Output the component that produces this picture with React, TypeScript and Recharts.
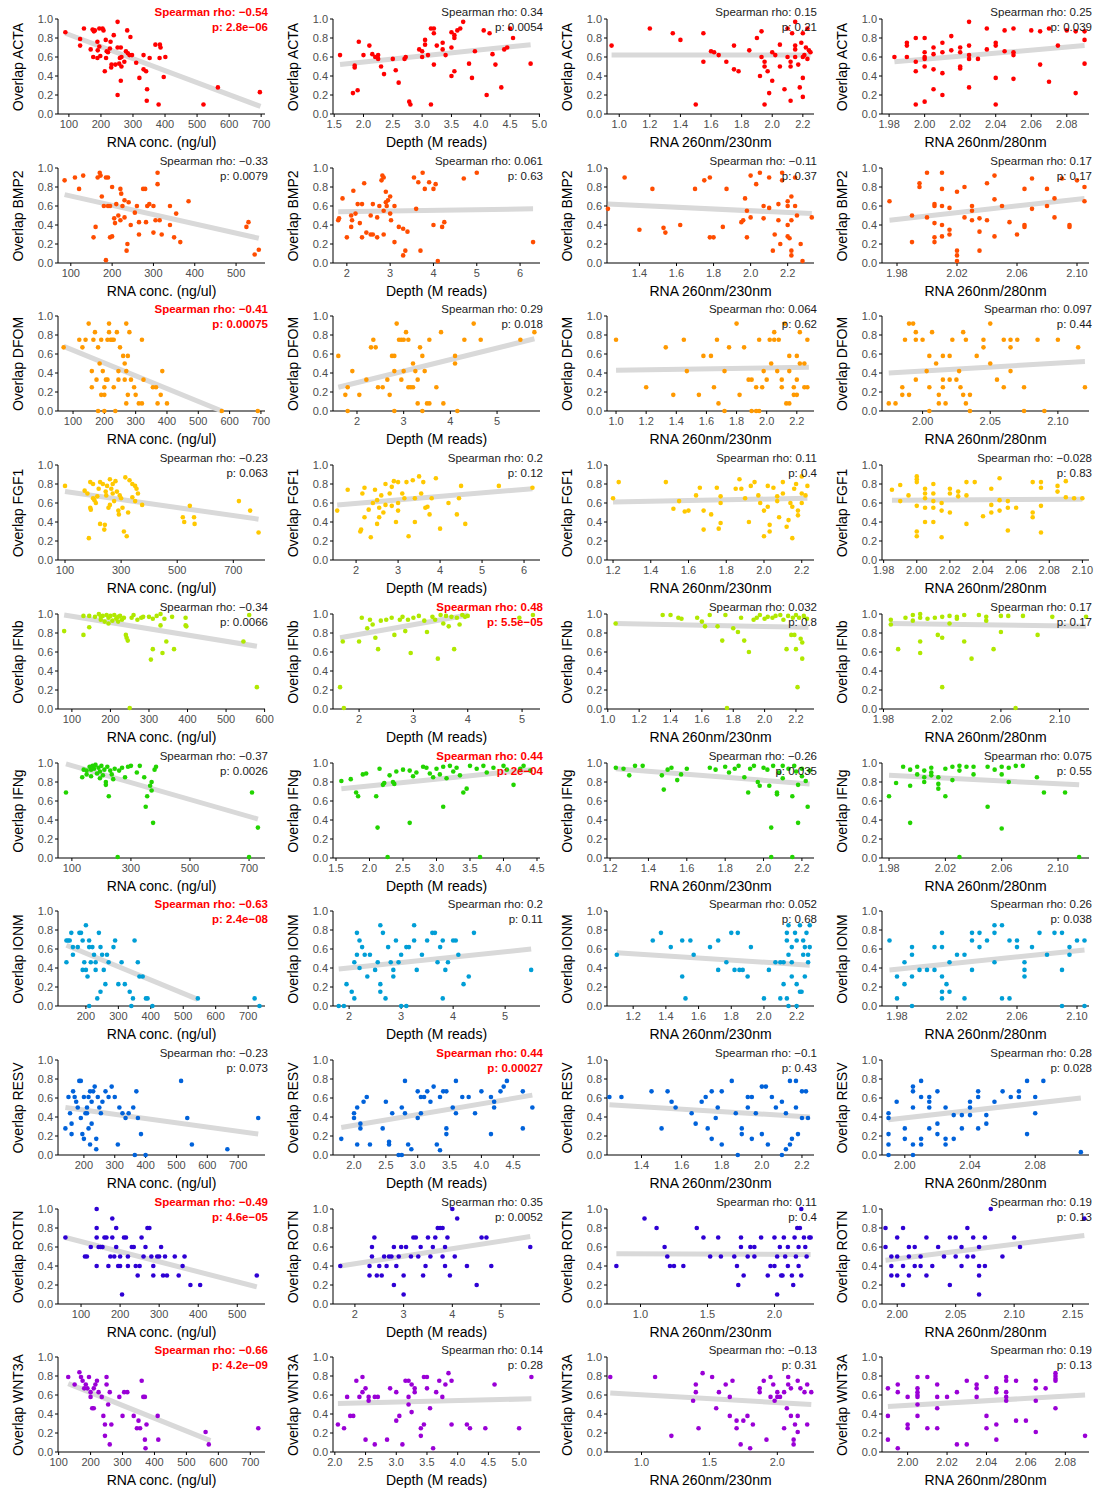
import React from 'react';
import { ScatterChart, Scatter, XAxis, YAxis } from 'recharts';

const GENES = ['ACTA', 'BMP2', 'DFOM', 'FGF1', 'IFNb', 'IFNg', 'IONM', 'RESV', 'ROTN', 'WNT3A'];
const COLORS = ['#FF0000', '#FF4D00', '#FF9900', '#FFC800', '#B0E800', '#22D400', '#009ED6', '#0062DA', '#2E00D4', '#9A00D6'];
const X_TITLES = ['RNA conc. (ng/ul)', 'Depth (M reads)', 'RNA 260nm/230nm', 'RNA 260nm/280nm'];
const Y_TICKS = [0, 0.2, 0.4, 0.6, 0.8, 1.0];

// ---------- ACTA ----------
const ACTA_RNA = [89,0.86, 135,0.79, 135,0.72, 147,0.90, 168,0.68, 174,0.89, 178,0.87, 181,0.88, 176,0.60, 189,0.76, 190,0.67, 189,0.59, 195,0.71, 195,0.90, 198,0.61, 205,0.90, 208,0.88, 212,0.45, 215,0.78, 218,0.66, 222,0.65, 216,0.59, 228,0.69, 230,0.76, 233,0.52, 232,0.49, 240,0.83, 245,0.52, 252,0.97, 252,0.70, 252,0.20, 257,0.53, 259,0.59, 262,0.70, 262,0.35, 264,0.60, 264,0.50, 273,0.55, 278,0.66, 282,0.88, 284,0.64, 289,0.62, 292,0.81, 297,0.62, 310,0.54, 320,0.38, 333,0.62, 333,0.47, 341,0.45, 344,0.26, 343,0.14, 352,0.59, 370,0.73, 384,0.73, 386,0.70, 383,0.59, 380,0.10, 396,0.39, 401,0.60, 520,0.10, 565,0.28, 696,0.23];
const ACTA_DEPTH = [1.6,0.62, 1.85,0.49, 1.85,0.51, 1.82,0.22, 1.9,0.25, 1.92,0.76, 2.0,0.62, 2.1,0.72, 2.15,0.63, 2.2,0.6, 2.25,0.58, 2.25,0.62, 2.3,0.5, 2.35,0.42, 2.5,0.58, 2.55,0.46, 2.6,0.33, 2.7,0.58, 2.72,0.6, 2.78,0.13, 2.8,0.1, 2.95,0.68, 3.0,0.6, 3.0,0.66, 3.05,0.78, 3.05,0.73, 3.1,0.62, 3.15,0.1, 3.15,0.9, 3.2,0.9, 3.2,0.85, 3.2,0.52, 3.25,0.72, 3.35,0.75, 3.35,0.68, 3.4,0.62, 3.5,0.7, 3.5,0.86, 3.55,0.8, 3.55,0.83, 3.5,0.4, 3.55,0.45, 3.6,0.88, 3.65,0.9, 3.7,0.97, 3.8,0.53, 3.85,0.38, 3.9,0.66, 4.05,0.88, 4.1,0.2, 4.15,0.85, 4.2,0.63, 4.25,0.52, 4.35,0.28, 4.4,0.68, 4.45,0.7, 4.5,0.9, 4.55,0.8, 4.85,0.53];
const ACTA_230 = [0.95,0.72, 1.2,0.9, 1.35,0.85, 1.4,0.78, 1.5,0.1, 1.55,0.85, 1.55,0.55, 1.6,0.66, 1.62,0.65, 1.65,0.62, 1.7,0.55, 1.75,0.47, 1.75,0.72, 1.78,0.45, 1.85,0.67, 1.9,0.8, 1.92,0.4, 1.93,0.87, 1.93,0.6, 1.95,0.55, 1.95,0.5, 1.97,0.45, 1.95,0.1, 1.98,0.22, 2.0,0.35, 2.02,0.62, 2.05,0.73, 2.08,0.26, 2.1,0.6, 2.1,0.9, 2.12,0.5, 2.12,0.14, 2.13,0.85, 2.15,0.6, 2.15,0.68, 2.15,0.72, 2.15,0.97, 2.17,0.52, 2.18,0.28, 2.19,0.75, 2.2,0.38, 2.2,0.6, 2.2,0.85, 2.2,0.18, 2.21,0.62, 2.22,0.7, 2.23,0.58, 2.23,0.9, 2.24,0.67, 2.25,0.65, 2.12,0.55, 2.05,0.5, 2.0,0.65];
const ACTA_280 = [1.983,0.6, 1.99,0.72, 1.99,0.75, 1.99,0.6, 1.995,0.8, 1.995,0.55, 1.995,0.45, 1.995,0.1, 2.0,0.8, 2.0,0.65, 2.0,0.6, 2.0,0.58, 2.0,0.5, 2.0,0.13, 2.005,0.63, 2.005,0.7, 2.005,0.47, 2.005,0.26, 2.01,0.75, 2.01,0.65, 2.01,0.43, 2.01,0.2, 2.015,0.82, 2.015,0.67, 2.02,0.7, 2.02,0.65, 2.02,0.5, 2.02,0.48, 2.025,0.97, 2.025,0.72, 2.025,0.62, 2.025,0.58, 2.025,0.28, 2.03,0.58, 2.035,0.9, 2.035,0.68, 2.04,0.75, 2.04,0.72, 2.04,0.38, 2.04,0.1, 2.045,0.88, 2.045,0.66, 2.05,0.9, 2.05,0.65, 2.05,0.62, 2.05,0.37, 2.06,0.88, 2.065,0.87, 2.065,0.52, 2.07,0.9, 2.07,0.34, 2.075,0.72, 2.08,0.88, 2.085,0.87, 2.085,0.22, 2.09,0.87, 2.09,0.78, 2.09,0.53];
const TICKS_ACTA = [['100','200','300','400','500','600','700'], ['1.5','2.0','2.5','3.0','3.5','4.0','4.5','5.0'], ['1.0','1.2','1.4','1.6','1.8','2.0','2.2'], ['1.98','2.00','2.02','2.04','2.06','2.08']];
const DOMAIN_ACTA = [[66,712], [1.48,5.01], [0.92,2.273], [1.976,2.0925]];
const FIT_ACTA = [[89,0.85,698,0.08], [1.6,0.52,4.85,0.73], [0.95,0.62,2.25,0.62], [1.983,0.55,2.09,0.72]];
const RHO_ACTA = ['−0.54', '0.34', '0.15', '0.25'];
const P_ACTA = ['2.8e−06', '0.0054', '0.21', '0.039'];
const SIG_ACTA = [true, false, false, false];

// ---------- BMP2 ----------
const BMP2_RNA = [85,0.87, 110,0.9, 120,0.78, 130,0.92, 155,0.27, 160,0.38, 165,0.9, 170,0.95, 172,0.92, 175,0.7, 180,0.6, 185,0.03, 185,0.9, 190,0.9, 190,0.6, 195,0.6, 195,0.27, 200,0.28, 200,0.8, 205,0.47, 207,0.42, 210,0.62, 215,0.5, 220,0.78, 222,0.73, 220,0.45, 225,0.6, 230,0.66, 230,0.48, 235,0.13, 237,0.2, 240,0.64, 245,0.4, 255,0.53, 260,0.6, 265,0.43, 265,0.3, 275,0.78, 280,0.78, 282,0.43, 285,0.6, 290,0.62, 300,0.6, 300,0.32, 305,0.45, 310,0.95, 310,0.83, 315,0.45, 320,0.3, 340,0.6, 340,0.4, 350,0.27, 355,0.52, 365,0.22, 385,0.65, 525,0.38, 530,0.43, 545,0.09, 555,0.14];
const BMP2_DEPTH = [1.8,0.45, 1.82,0.47, 1.9,0.68, 2.0,0.27, 2.1,0.5, 2.1,0.38, 2.12,0.45, 2.15,0.76, 2.2,0.52, 2.25,0.62, 2.3,0.42, 2.35,0.62, 2.35,0.27, 2.4,0.84, 2.45,0.32, 2.55,0.5, 2.55,0.3, 2.6,0.62, 2.6,0.3, 2.7,0.48, 2.7,0.27, 2.75,0.6, 2.8,0.87, 2.82,0.92, 2.85,0.9, 2.85,0.55, 2.85,0.3, 2.9,0.75, 2.9,0.64, 2.92,0.6, 2.95,0.66, 3.0,0.7, 3.0,0.52, 3.02,0.45, 3.1,0.6, 3.1,0.22, 3.2,0.38, 3.3,0.08, 3.35,0.13, 3.3,0.36, 3.4,0.33, 3.55,0.9, 3.6,0.57, 3.65,0.85, 3.75,0.95, 3.7,0.13, 3.8,0.78, 3.9,0.85, 4.0,0.78, 4.0,0.4, 4.05,0.83, 4.1,0.02, 4.2,0.38, 4.25,0.43, 4.7,0.89, 5.0,0.95, 6.3,0.22];
const BMP2_230 = [1.23,0.57, 1.32,0.9, 1.4,0.35, 1.47,0.78, 1.53,0.37, 1.54,0.32, 1.62,0.4, 1.7,0.78, 1.75,0.87, 1.78,0.27, 1.8,0.27, 1.78,0.9, 1.85,0.38, 1.87,0.78, 1.95,0.43, 1.96,0.45, 1.97,0.68, 1.98,0.27, 1.98,0.55, 2.0,0.92, 2.0,0.48, 2.03,0.83, 2.05,0.95, 2.07,0.6, 2.07,0.47, 2.1,0.9, 2.1,0.58, 2.12,0.13, 2.13,0.3, 2.15,0.62, 2.15,0.45, 2.16,0.2, 2.17,0.95, 2.17,0.87, 2.2,0.65, 2.2,0.6, 2.2,0.4, 2.2,0.28, 2.21,0.26, 2.22,0.7, 2.22,0.45, 2.22,0.13, 2.22,0.08, 2.24,0.6, 2.25,0.5, 2.24,0.9, 2.27,0.2, 2.28,0.02, 2.33,0.48];
const BMP2_280 = [1.975,0.65, 1.99,0.22, 1.99,0.5, 1.995,0.84, 1.995,0.8, 2.0,0.95, 2.0,0.48, 2.005,0.6, 2.005,0.62, 2.005,0.42, 2.005,0.27, 2.005,0.22, 2.01,0.95, 2.01,0.78, 2.01,0.6, 2.01,0.4, 2.01,0.28, 2.015,0.58, 2.015,0.35, 2.015,0.3, 2.02,0.75, 2.02,0.13, 2.02,0.08, 2.02,0.02, 2.025,0.48, 2.025,0.8, 2.03,0.6, 2.03,0.55, 2.03,0.45, 2.035,0.47, 2.035,0.13, 2.035,0.33, 2.04,0.84, 2.04,0.45, 2.045,0.92, 2.045,0.67, 2.045,0.28, 2.05,0.6, 2.055,0.43, 2.06,0.3, 2.065,0.78, 2.065,0.4, 2.065,0.38, 2.07,0.89, 2.07,0.57, 2.08,0.78, 2.08,0.6, 2.085,0.68, 2.085,0.48, 2.09,0.89, 2.095,0.38, 2.095,0.4, 2.1,0.87, 2.105,0.8, 2.105,0.65];
const TICKS_BMP2 = [['100','200','300','400','500'], ['2','3','4','5','6'], ['1.4','1.6','1.8','2.0','2.2'], ['1.98','2.02','2.06','2.10']];
const DOMAIN_BMP2 = [[69,570], [1.68,6.46], [1.225,2.342], [1.97,2.108]];
const FIT_BMP2 = [[85,0.72,555,0.26], [1.8,0.54,6.3,0.57], [1.23,0.62,2.33,0.52], [1.975,0.45,2.105,0.68]];
const RHO_BMP2 = ['−0.33', '0.061', '−0.11', '0.17'];
const P_BMP2 = ['0.0079', '0.63', '0.37', '0.17'];
const SIG_BMP2 = [false, false, false, false];

// ---------- DFOM ----------
const DFOM_RNA = [70,0.67, 120,0.75, 130,0.67, 140,0.75, 150,0.92, 160,0.42, 160,0.25, 165,0.75, 170,0.83, 175,0.33, 180,0.0, 180,0.67, 185,0.5, 190,0.75, 190,0.17, 195,0.42, 200,0.25, 200,0.17, 200,0.0, 205,0.33, 210,0.33, 210,0.75, 215,0.92, 215,0.83, 220,0.75, 225,0.75, 230,0.75, 230,0.25, 235,0.0, 240,0.83, 245,0.42, 245,0.33, 250,0.67, 260,0.58, 265,0.5, 265,0.33, 270,0.92, 270,0.42, 270,0.08, 275,0.58, 275,0.17, 280,0.83, 285,0.33, 295,0.25, 300,0.17, 310,0.08, 320,0.08, 320,0.75, 325,0.33, 355,0.25, 365,0.25, 370,0.08, 380,0.17, 385,0.42, 400,0.08, 575,0.0, 690,0.0];
const DFOM_DEPTH = [1.6,0.58, 1.75,0.17, 1.8,0.25, 1.8,0.0, 1.9,0.42, 2.05,0.17, 2.2,0.33, 2.3,0.67, 2.35,0.75, 2.4,0.67, 2.45,0.25, 2.55,0.25, 2.65,0.33, 2.7,0.17, 2.75,0.58, 2.8,0.58, 2.8,0.42, 2.8,0.0, 2.85,0.92, 2.9,0.75, 2.95,0.75, 3.0,0.75, 2.95,0.33, 3.0,0.42, 3.05,0.83, 3.1,0.25, 3.15,0.25, 3.2,0.25, 3.1,0.75, 3.2,0.5, 3.25,0.42, 3.3,0.08, 3.3,0.33, 3.35,0.67, 3.4,0.0, 3.4,0.58, 3.45,0.42, 3.5,0.08, 3.55,0.08, 3.55,0.75, 3.7,0.25, 3.8,0.83, 3.85,0.08, 4.1,0.58, 4.1,0.5, 4.15,0.0, 4.3,0.75, 4.5,0.92, 4.65,0.75, 5.5,0.75, 5.8,0.83];
const DFOM_230 = [1.0,0.75, 1.2,0.25, 1.33,0.67, 1.38,0.17, 1.45,0.75, 1.47,0.42, 1.55,0.17, 1.58,0.58, 1.63,0.58, 1.65,0.25, 1.67,0.75, 1.68,0.08, 1.72,0.0, 1.72,0.42, 1.75,0.67, 1.8,0.92, 1.82,0.17, 1.85,0.67, 1.88,0.33, 1.9,0.33, 1.9,0.0, 1.93,0.0, 1.95,0.0, 1.93,0.25, 1.97,0.25, 1.95,0.75, 1.98,0.42, 2.0,0.33, 2.02,0.75, 2.05,0.75, 2.03,0.5, 2.05,0.83, 2.07,0.42, 2.08,0.75, 2.1,0.25, 2.1,0.33, 2.12,0.92, 2.13,0.08, 2.15,0.08, 2.15,0.58, 2.15,0.42, 2.18,0.25, 2.18,0.17, 2.2,0.17, 2.2,0.33, 2.2,0.58, 2.22,0.5, 2.22,0.83, 2.25,0.5, 2.25,0.25, 2.27,0.25, 2.27,0.75];
const DFOM_280 = [1.975,0.08, 1.98,0.08, 1.985,0.17, 1.985,0.25, 1.987,0.75, 1.99,0.92, 1.993,0.92, 1.99,0.17, 1.995,0.83, 1.995,0.75, 1.995,0.33, 2.0,0.75, 2.003,0.42, 2.005,0.58, 2.005,0.25, 2.005,0.0, 2.007,0.83, 2.01,0.5, 2.012,0.17, 2.012,0.08, 2.015,0.58, 2.015,0.33, 2.015,0.25, 2.017,0.08, 2.02,0.58, 2.02,0.33, 2.022,0.75, 2.025,0.33, 2.027,0.42, 2.028,0.25, 2.03,0.83, 2.032,0.75, 2.03,0.17, 2.032,0.08, 2.035,0.17, 2.035,0.0, 2.04,0.58, 2.045,0.67, 2.045,0.75, 2.05,0.92, 2.05,0.5, 2.055,0.33, 2.06,0.75, 2.06,0.25, 2.065,0.75, 2.065,0.67, 2.065,0.42, 2.07,0.75, 2.075,0.25, 2.075,0.0, 2.085,0.75, 2.09,0.0, 2.1,0.75, 2.115,0.67, 2.12,0.25];
const TICKS_DFOM = [['100','200','300','400','500','600','700'], ['2','3','4','5'], ['1.0','1.2','1.4','1.6','1.8','2.0','2.2'], ['2.00','2.05','2.10']];
const DOMAIN_DFOM = [[52,713], [1.486,5.92], [0.94,2.314], [1.97,2.123]];
const FIT_DFOM = [[70,0.68,575,0.0], [1.6,0.25,5.8,0.76], [1.0,0.43,2.28,0.46], [1.975,0.4,2.12,0.52]];
const RHO_DFOM = ['−0.41', '0.29', '0.064', '0.097'];
const P_DFOM = ['0.00075', '0.018', '0.62', '0.44'];
const SIG_DFOM = [true, false, false, false];

// ---------- FGF1 ----------
const FGF1_RNA = [100,0.78, 170,0.73, 180,0.7, 185,0.23, 190,0.82, 190,0.55, 192,0.53, 200,0.8, 200,0.65, 205,0.63, 210,0.6, 215,0.67, 220,0.75, 225,0.82, 225,0.38, 235,0.8, 240,0.32, 242,0.37, 245,0.72, 247,0.68, 250,0.78, 255,0.55, 260,0.58, 260,0.85, 265,0.75, 270,0.8, 270,0.7, 275,0.62, 280,0.83, 285,0.72, 290,0.52, 292,0.48, 295,0.68, 300,0.65, 305,0.55, 310,0.3, 315,0.87, 320,0.25, 325,0.5, 330,0.84, 340,0.8, 340,0.66, 350,0.62, 350,0.78, 355,0.75, 360,0.7, 375,0.58, 520,0.45, 525,0.4, 545,0.57, 560,0.45, 562,0.38, 720,0.62, 760,0.52, 790,0.29];
const FGF1_DEPTH = [1.55,0.52, 1.8,0.74, 2.1,0.3, 2.12,0.32, 2.15,0.7, 2.2,0.76, 2.2,0.45, 2.3,0.53, 2.35,0.24, 2.4,0.6, 2.45,0.74, 2.5,0.38, 2.5,0.63, 2.55,0.55, 2.55,0.45, 2.6,0.68, 2.65,0.5, 2.7,0.8, 2.7,0.58, 2.8,0.7, 2.85,0.77, 2.85,0.57, 2.9,0.83, 2.95,0.4, 3.0,0.82, 3.0,0.6, 3.0,0.52, 3.1,0.7, 3.15,0.65, 3.2,0.82, 3.25,0.25, 3.35,0.84, 3.4,0.4, 3.4,0.65, 3.5,0.88, 3.55,0.7, 3.6,0.82, 3.65,0.55, 3.7,0.56, 3.75,0.48, 3.8,0.65, 3.9,0.86, 4.0,0.33, 4.2,0.6, 4.4,0.48, 4.45,0.65, 4.5,0.78, 4.6,0.38, 5.4,0.78, 6.2,0.76];
const FGF1_230 = [1.2,0.65, 1.23,0.82, 1.48,0.82, 1.52,0.54, 1.55,0.62, 1.58,0.51, 1.6,0.52, 1.64,0.68, 1.66,0.76, 1.68,0.52, 1.68,0.32, 1.72,0.48, 1.75,0.76, 1.76,0.33, 1.77,0.39, 1.77,0.6, 1.77,0.67, 1.85,0.75, 1.87,0.85, 1.88,0.75, 1.9,0.65, 1.92,0.4, 1.93,0.78, 1.95,0.82, 1.97,0.68, 1.98,0.6, 2.0,0.52, 2.0,0.25, 2.02,0.56, 2.02,0.78, 2.03,0.3, 2.03,0.37, 2.05,0.76, 2.07,0.62, 2.07,0.67, 2.08,0.45, 2.1,0.7, 2.1,0.82, 2.12,0.35, 2.13,0.42, 2.14,0.6, 2.15,0.56, 2.15,0.23, 2.16,0.75, 2.17,0.8, 2.18,0.52, 2.18,0.47, 2.2,0.88, 2.2,0.7, 2.2,0.6, 2.22,0.68, 2.23,0.78];
const FGF1_280 = [1.985,0.74, 1.99,0.79, 1.99,0.62, 1.995,0.68, 2.0,0.88, 2.0,0.85, 2.0,0.82, 2.0,0.57, 2.0,0.3, 2.0,0.25, 2.005,0.75, 2.005,0.7, 2.005,0.65, 2.005,0.55, 2.005,0.4, 2.01,0.8, 2.01,0.7, 2.01,0.62, 2.01,0.55, 2.01,0.4, 2.015,0.6, 2.015,0.52, 2.015,0.24, 2.02,0.75, 2.02,0.7, 2.02,0.5, 2.025,0.72, 2.025,0.67, 2.03,0.82, 2.03,0.68, 2.03,0.38, 2.035,0.82, 2.04,0.46, 2.045,0.75, 2.045,0.58, 2.045,0.5, 2.05,0.86, 2.05,0.63, 2.05,0.52, 2.055,0.62, 2.055,0.55, 2.055,0.31, 2.06,0.55, 2.07,0.82, 2.07,0.5, 2.07,0.45, 2.075,0.82, 2.075,0.76, 2.075,0.57, 2.075,0.29, 2.085,0.78, 2.085,0.72, 2.09,0.83, 2.09,0.66, 2.095,0.65, 2.1,0.65];
const TICKS_FGF1 = [['100','300','500','700'], ['2','3','4','5','6'], ['1.2','1.4','1.6','1.8','2.0','2.2'], ['1.98','2.00','2.02','2.04','2.06','2.08','2.10']];
const DOMAIN_FGF1 = [[75,813], [1.45,6.38], [1.168,2.265], [1.979,2.104]];
const FIT_FGF1 = [[100,0.72,790,0.43], [1.55,0.58,6.2,0.75], [1.2,0.61,2.23,0.65], [1.985,0.63,2.1,0.64]];
const RHO_FGF1 = ['−0.23', '0.2', '0.11', '−0.028'];
const P_FGF1 = ['0.063', '0.12', '0.4', '0.83'];
const SIG_FGF1 = [false, false, false, false];

// ---------- IFNb ----------
const IFNB_RNA = [80,0.82, 130,0.98, 130,0.78, 145,0.98, 145,0.86, 160,0.97, 170,1.0, 175,0.97, 175,0.94, 180,0.98, 185,0.92, 190,0.99, 195,0.96, 195,0.9, 200,0.98, 205,0.93, 210,0.99, 215,0.95, 220,0.97, 220,0.92, 225,0.98, 230,0.94, 235,0.96, 240,0.78, 242,0.75, 245,0.72, 250,0.01, 255,0.96, 260,0.99, 270,0.94, 280,0.96, 285,0.97, 300,0.97, 305,0.52, 310,0.95, 310,0.63, 320,0.98, 330,1.0, 330,0.88, 335,0.59, 340,0.95, 345,0.71, 360,0.97, 365,0.63, 395,0.96, 395,0.88, 397,0.87, 545,0.71, 560,0.99, 580,0.23];
const IFNB_DEPTH = [1.65,0.23, 1.7,0.71, 1.72,0.01, 2.0,0.71, 2.05,0.96, 2.15,0.85, 2.2,0.94, 2.25,0.89, 2.3,0.75, 2.35,0.63, 2.4,0.93, 2.5,0.94, 2.6,0.96, 2.65,0.78, 2.75,0.94, 2.8,0.97, 2.85,0.82, 2.9,0.94, 2.95,0.59, 3.0,0.96, 3.1,0.98, 3.2,0.93, 3.25,0.81, 3.35,0.97, 3.4,0.94, 3.45,0.53, 3.5,0.99, 3.55,0.9, 3.6,0.98, 3.65,0.87, 3.7,0.97, 3.75,0.63, 3.8,0.96, 3.85,0.89, 3.9,0.99, 3.95,0.97, 4.0,0.98, 4.95,0.96, 5.2,0.99];
const IFNB_230 = [1.05,0.9, 1.35,0.99, 1.4,0.99, 1.45,0.96, 1.47,0.95, 1.57,0.96, 1.6,0.92, 1.62,0.87, 1.65,0.99, 1.7,0.87, 1.73,0.72, 1.75,0.99, 1.76,0.01, 1.8,0.85, 1.83,0.81, 1.85,0.96, 1.87,0.72, 1.9,0.6, 1.93,0.94, 1.95,0.96, 1.97,0.99, 2.0,0.95, 2.02,0.97, 2.05,0.96, 2.07,0.98, 2.1,0.99, 2.12,0.94, 2.14,0.63, 2.15,0.98, 2.17,0.78, 2.18,0.96, 2.19,0.78, 2.2,0.99, 2.2,0.63, 2.21,0.23, 2.22,0.96, 2.23,0.74, 2.24,0.7, 2.24,0.53, 2.25,0.98, 2.27,0.95];
const IFNB_280 = [1.985,0.94, 1.985,0.89, 1.99,0.63, 1.995,0.96, 2.0,0.99, 2.0,0.93, 2.005,1.0, 2.005,0.96, 2.005,0.71, 2.005,0.59, 2.01,0.95, 2.015,0.96, 2.017,0.78, 2.02,0.97, 2.02,0.75, 2.02,0.23, 2.025,0.98, 2.025,0.9, 2.03,0.97, 2.03,0.95, 2.035,0.99, 2.035,0.71, 2.04,0.53, 2.045,0.99, 2.05,0.97, 2.05,0.93, 2.055,0.63, 2.06,0.98, 2.06,0.81, 2.065,0.98, 2.07,0.01, 2.075,0.98, 2.085,0.78, 2.095,0.97, 2.118,0.97];
const TICKS_IFNB = [['100','200','300','400','500','600'], ['2','3','4','5'], ['1.0','1.2','1.4','1.6','1.8','2.0','2.2'], ['1.98','2.02','2.06','2.10']];
const DOMAIN_IFNB = [[64,601], [1.52,5.33], [0.995,2.315], [1.979,2.12]];
const FIT_IFNB = [[80,0.99,580,0.66], [1.65,0.75,4.0,0.99], [1.05,0.9,2.28,0.86], [1.985,0.9,2.118,0.87]];
const RHO_IFNB = ['−0.34', '0.48', '0.032', '0.17'];
const P_IFNB = ['0.0066', '5.5e−05', '0.8', '0.17'];
const SIG_IFNB = [false, true, false, false];

// ---------- IFNg ----------
const IFNG_RNA = [80,0.69, 135,0.85, 140,0.93, 150,0.92, 150,0.88, 160,0.96, 165,0.93, 165,0.86, 170,0.97, 175,0.94, 180,0.98, 185,0.89, 190,0.95, 195,0.91, 195,0.84, 200,0.97, 205,0.87, 210,0.93, 215,0.8, 215,0.77, 220,0.96, 225,0.65, 230,0.92, 235,0.88, 240,0.83, 245,0.94, 255,0.01, 260,0.92, 270,0.95, 280,0.85, 290,0.96, 300,0.97, 320,0.9, 330,0.97, 345,0.85, 350,0.54, 355,0.65, 365,0.76, 370,0.8, 370,0.71, 375,0.37, 380,0.93, 385,0.96, 700,0.01, 710,0.69, 730,0.32];
const IFNG_DEPTH = [1.58,0.81, 1.72,0.83, 1.8,0.69, 1.83,0.65, 1.9,0.88, 1.95,0.89, 2.1,0.65, 2.12,0.32, 2.15,0.94, 2.2,0.77, 2.22,0.79, 2.27,0.01, 2.3,0.87, 2.35,0.8, 2.37,0.78, 2.4,0.91, 2.5,0.93, 2.6,0.37, 2.6,0.92, 2.65,0.86, 2.7,0.9, 2.8,0.96, 2.85,0.95, 2.9,0.89, 2.95,0.85, 3.0,0.94, 3.05,0.88, 3.1,0.54, 3.1,0.96, 3.15,0.84, 3.2,0.97, 3.25,0.91, 3.3,0.95, 3.35,0.87, 3.4,0.69, 3.45,0.73, 3.5,0.97, 3.6,0.94, 3.65,0.01, 3.7,0.97, 3.75,0.9, 3.85,0.95, 4.0,0.97, 4.05,0.93, 4.15,0.77, 4.25,0.94, 4.3,0.97, 4.4,0.92];
const IFNG_230 = [1.23,0.95, 1.27,0.94, 1.3,0.87, 1.33,0.97, 1.37,0.97, 1.47,0.87, 1.48,0.72, 1.5,0.93, 1.52,0.95, 1.55,0.82, 1.57,0.88, 1.6,0.94, 1.72,0.95, 1.75,0.93, 1.8,0.96, 1.82,0.9, 1.85,0.94, 1.87,0.97, 1.9,0.85, 1.92,0.69, 1.93,0.94, 1.95,0.97, 1.97,0.8, 1.98,0.76, 2.0,0.95, 2.02,0.93, 2.03,0.76, 2.04,0.32, 2.04,0.01, 2.05,0.97, 2.07,0.69, 2.07,0.67, 2.08,0.9, 2.1,0.97, 2.1,0.84, 2.13,0.94, 2.15,0.65, 2.15,0.01, 2.16,0.97, 2.17,0.91, 2.18,0.37, 2.18,0.77, 2.2,0.94, 2.2,0.86, 2.22,0.81, 2.23,0.54, 2.24,0.92];
const IFNG_280 = [1.98,0.65, 1.985,0.79, 1.99,0.96, 1.995,0.93, 1.995,0.76, 1.995,0.37, 2.0,0.96, 2.0,0.88, 2.005,0.92, 2.005,0.85, 2.005,0.8, 2.01,0.95, 2.01,0.9, 2.01,0.87, 2.015,0.85, 2.015,0.78, 2.015,0.73, 2.02,0.94, 2.02,0.65, 2.025,0.96, 2.025,0.82, 2.03,0.97, 2.03,0.92, 2.03,0.01, 2.035,0.96, 2.04,0.96, 2.04,0.88, 2.05,0.96, 2.05,0.54, 2.055,0.93, 2.06,0.96, 2.06,0.88, 2.06,0.31, 2.065,0.95, 2.065,0.8, 2.07,0.97, 2.075,0.97, 2.085,0.85, 2.09,0.69, 2.105,0.69, 2.115,0.01];
const TICKS_IFNG = [['100','300','500','700'], ['1.5','2.0','2.5','3.0','3.5','4.0','4.5'], ['1.2','1.4','1.6','1.8','2.0','2.2'], ['1.98','2.02','2.06','2.10']];
const DOMAIN_IFNG = [[53,754], [1.455,4.545], [1.184,2.263], [1.975,2.122]];
const FIT_IFNG = [[80,0.99,730,0.41], [1.58,0.73,4.42,0.93], [1.23,0.94,2.24,0.78], [1.98,0.87,2.115,0.77]];
const RHO_IFNG = ['−0.37', '0.44', '−0.26', '0.075'];
const P_IFNG = ['0.0026', '2e−04', '0.035', '0.55'];
const SIG_IFNG = [false, true, false, false];

// ---------- IONM ----------
const IONM_RNA = [140,0.46, 140,0.69, 145,0.69, 150,0.69, 155,0.77, 160,0.62, 160,0.54, 175,0.62, 180,0.77, 185,0.77, 190,0.69, 190,0.38, 195,0.46, 200,0.38, 200,0.85, 205,0.31, 210,0.69, 210,0.62, 210,0.0, 215,0.46, 220,0.62, 225,0.54, 230,0.46, 230,0.38, 235,0.08, 240,0.77, 245,0.15, 245,0.62, 250,0.54, 255,0.38, 260,0.23, 265,0.54, 270,0.46, 285,0.62, 290,0.69, 300,0.23, 310,0.46, 320,0.23, 335,0.15, 340,0.0, 345,0.08, 350,0.69, 360,0.46, 365,0.31, 375,0.31, 385,0.08, 390,0.08, 405,0.0, 545,0.08, 720,0.08, 735,0.0];
const IONM_DEPTH = [1.8,0.0, 1.9,0.0, 1.95,0.23, 2.05,0.15, 2.1,0.46, 2.1,0.08, 2.15,0.54, 2.15,0.77, 2.2,0.69, 2.2,0.4, 2.25,0.62, 2.3,0.54, 2.35,0.31, 2.4,0.54, 2.5,0.38, 2.55,0.46, 2.6,0.15, 2.6,0.23, 2.6,0.85, 2.65,0.77, 2.7,0.08, 2.75,0.62, 2.8,0.46, 2.85,0.31, 2.85,0.38, 2.9,0.69, 2.95,0.46, 3.0,0.0, 3.1,0.0, 3.0,0.54, 3.1,0.62, 3.15,0.62, 3.25,0.69, 3.25,0.85, 3.3,0.38, 3.4,0.54, 3.5,0.69, 3.6,0.77, 3.65,0.77, 3.7,0.46, 3.75,0.62, 3.8,0.08, 3.8,0.69, 3.85,0.38, 3.9,0.46, 4.0,0.69, 4.05,0.69, 4.1,0.54, 4.2,0.23, 4.3,0.31, 4.4,0.77, 5.5,0.38];
const IONM_230 = [1.1,0.54, 1.32,0.69, 1.37,0.77, 1.43,0.62, 1.5,0.69, 1.5,0.31, 1.52,0.08, 1.55,0.69, 1.57,0.54, 1.67,0.62, 1.72,0.38, 1.72,0.69, 1.77,0.46, 1.8,0.77, 1.82,0.38, 1.85,0.38, 1.87,0.38, 1.84,0.77, 1.9,0.31, 1.92,0.62, 2.0,0.08, 2.03,0.38, 2.07,0.46, 2.1,0.46, 2.1,0.08, 2.12,0.46, 2.12,0.23, 2.14,0.77, 2.14,0.69, 2.14,0.08, 2.15,0.85, 2.15,0.54, 2.15,0.0, 2.17,0.62, 2.17,0.46, 2.17,0.31, 2.19,0.77, 2.2,0.69, 2.2,0.23, 2.2,0.0, 2.22,0.85, 2.22,0.15, 2.23,0.15, 2.24,0.54, 2.24,0.69, 2.25,0.62, 2.26,0.77, 2.27,0.54, 2.27,0.46, 2.28,0.62, 2.28,0.85, 2.25,0.31];
const IONM_280 = [1.975,0.69, 1.98,0.31, 1.98,0.08, 1.985,0.46, 1.985,0.23, 1.99,0.62, 1.99,0.54, 1.99,0.31, 1.99,0.0, 1.995,0.38, 2.0,0.38, 2.005,0.62, 2.005,0.38, 2.01,0.77, 2.01,0.62, 2.01,0.31, 2.01,0.15, 2.01,0.08, 2.013,0.23, 2.015,0.46, 2.015,0.15, 2.02,0.54, 2.025,0.54, 2.025,0.08, 2.03,0.77, 2.03,0.69, 2.03,0.38, 2.035,0.77, 2.035,0.62, 2.04,0.69, 2.045,0.77, 2.045,0.85, 2.045,0.46, 2.05,0.85, 2.05,0.08, 2.055,0.69, 2.055,0.08, 2.06,0.69, 2.06,0.62, 2.065,0.46, 2.065,0.31, 2.065,0.38, 2.07,0.62, 2.075,0.77, 2.08,0.54, 2.085,0.77, 2.09,0.77, 2.09,0.38, 2.095,0.54, 2.095,0.62, 2.09,0.0, 2.1,0.69, 2.105,0.69, 2.105,0.0];
const TICKS_IONM = [['200','300','400','500','600','700'], ['2','3','4','5'], ['1.2','1.4','1.6','1.8','2.0','2.2'], ['1.98','2.02','2.06','2.10']];
const DOMAIN_IONM = [[114,752], [1.69,5.67], [1.04,2.306], [1.97,2.108]];
const FIT_IONM = [[140,0.64,545,0.07], [1.8,0.39,5.5,0.6], [1.1,0.56,2.28,0.43], [1.975,0.38,2.105,0.59]];
const RHO_IONM = ['−0.63', '0.2', '0.052', '0.26'];
const P_IONM = ['2.4e−08', '0.11', '0.68', '0.038'];
const SIG_IONM = [true, false, false, false];

// ---------- RESV ----------
const RESV_RNA = [140,0.28, 150,0.61, 155,0.44, 160,0.33, 160,0.22, 165,0.67, 170,0.61, 175,0.56, 180,0.5, 185,0.78, 190,0.78, 190,0.39, 195,0.22, 200,0.17, 200,0.61, 205,0.44, 210,0.44, 210,0.5, 215,0.61, 215,0.28, 220,0.67, 220,0.11, 225,0.56, 225,0.33, 230,0.67, 235,0.72, 240,0.17, 240,0.06, 245,0.61, 250,0.5, 255,0.44, 260,0.56, 270,0.67, 280,0.61, 290,0.72, 300,0.61, 310,0.11, 315,0.5, 325,0.44, 335,0.39, 345,0.44, 360,0.5, 365,0.0, 370,0.67, 375,0.39, 385,0.22, 400,0.0, 515,0.78, 535,0.39, 550,0.11, 665,0.06, 765,0.39];
const RESV_DEPTH = [1.8,0.17, 2.0,0.44, 2.0,0.39, 2.05,0.5, 2.05,0.11, 2.1,0.28, 2.1,0.33, 2.15,0.56, 2.2,0.61, 2.25,0.11, 2.45,0.28, 2.5,0.56, 2.55,0.11, 2.55,0.14, 2.6,0.44, 2.7,0.0, 2.75,0.0, 2.75,0.5, 2.8,0.44, 2.8,0.78, 2.85,0.11, 2.9,0.06, 3.0,0.67, 3.0,0.39, 3.05,0.61, 3.05,0.44, 3.1,0.61, 3.15,0.67, 3.2,0.56, 3.25,0.72, 3.3,0.11, 3.35,0.61, 3.35,0.05, 3.4,0.67, 3.45,0.67, 3.45,0.28, 3.45,0.22, 3.55,0.5, 3.6,0.44, 3.6,0.78, 3.7,0.61, 3.8,0.61, 3.9,0.44, 4.0,0.67, 4.15,0.22, 4.15,0.61, 4.2,0.5, 4.2,0.56, 4.3,0.67, 4.35,0.72, 4.4,0.78, 4.65,0.67, 4.65,0.28, 4.8,0.5];
const RESV_230 = [1.24,0.61, 1.3,0.61, 1.45,0.67, 1.5,0.28, 1.53,0.67, 1.55,0.56, 1.57,0.5, 1.65,0.44, 1.67,0.33, 1.7,0.56, 1.72,0.61, 1.73,0.28, 1.75,0.67, 1.75,0.17, 1.77,0.39, 1.78,0.5, 1.8,0.67, 1.8,0.11, 1.85,0.78, 1.87,0.44, 1.88,0.0, 1.9,0.28, 1.9,0.22, 1.93,0.61, 1.95,0.61, 1.93,0.5, 1.95,0.17, 1.97,0.44, 2.0,0.72, 2.02,0.72, 2.0,0.22, 2.03,0.11, 2.05,0.61, 2.07,0.5, 2.1,0.56, 2.1,0.0, 2.12,0.06, 2.12,0.44, 2.14,0.78, 2.14,0.11, 2.15,0.17, 2.17,0.78, 2.17,0.5, 2.18,0.22, 2.2,0.67, 2.2,0.39, 2.22,0.67, 2.23,0.39];
const RESV_280 = [1.99,0.44, 1.99,0.39, 1.99,0.22, 1.99,0.11, 1.99,0.0, 1.995,0.56, 2.0,0.28, 2.0,0.17, 2.005,0.72, 2.005,0.67, 2.005,0.5, 2.005,0.11, 2.005,0.0, 2.01,0.61, 2.01,0.78, 2.01,0.17, 2.01,0.11, 2.015,0.61, 2.015,0.56, 2.015,0.5, 2.015,0.28, 2.02,0.67, 2.02,0.33, 2.02,0.22, 2.025,0.5, 2.025,0.17, 2.025,0.11, 2.03,0.42, 2.03,0.17, 2.035,0.42, 2.035,0.28, 2.04,0.5, 2.04,0.42, 2.04,0.56, 2.045,0.67, 2.045,0.61, 2.045,0.28, 2.05,0.42, 2.05,0.33, 2.055,0.56, 2.06,0.67, 2.065,0.61, 2.07,0.67, 2.07,0.61, 2.075,0.78, 2.075,0.22, 2.08,0.61, 2.08,0.44, 2.085,0.78, 2.108,0.03];
const TICKS_RESV = [['200','300','400','500','600','700'], ['2.0','2.5','3.0','3.5','4.0','4.5'], ['1.4','1.6','1.8','2.0','2.2'], ['2.00','2.04','2.08']];
const DOMAIN_RESV = [[116,787], [1.67,4.92], [1.228,2.26], [1.986,2.113]];
const FIT_RESV = [[140,0.5,765,0.22], [1.8,0.29,4.8,0.63], [1.24,0.53,2.24,0.4], [1.99,0.37,2.108,0.6]];
const RHO_RESV = ['−0.23', '0.44', '−0.1', '0.28'];
const P_RESV = ['0.073', '0.00027', '0.43', '0.028'];
const SIG_RESV = [false, true, false, false];

// ---------- ROTN ----------
const ROTN_RNA = [60,0.7, 110,0.5, 115,0.5, 125,0.6, 140,1.0, 140,0.8, 140,0.7, 140,0.4, 145,0.6, 150,0.6, 155,0.6, 160,0.7, 165,0.7, 170,0.4, 175,0.5, 180,0.9, 180,0.7, 185,0.5, 190,0.6, 190,0.8, 195,0.4, 200,0.5, 200,0.4, 205,0.1, 210,0.7, 215,0.7, 220,0.5, 220,0.4, 230,0.6, 235,0.6, 240,0.4, 245,0.3, 250,0.4, 255,0.7, 260,0.5, 265,0.6, 270,0.8, 275,0.8, 280,0.5, 285,0.4, 285,0.3, 295,0.5, 300,0.5, 305,0.6, 310,0.3, 315,0.5, 320,0.3, 340,0.5, 350,0.3, 360,0.4, 365,0.5, 380,0.2, 405,0.2, 550,0.3];
const ROTN_DEPTH = [1.7,0.4, 2.3,0.4, 2.3,0.3, 2.35,0.5, 2.35,0.6, 2.4,0.7, 2.45,0.3, 2.5,0.4, 2.55,0.3, 2.6,0.5, 2.65,0.4, 2.7,0.5, 2.75,0.5, 2.8,0.2, 2.8,0.6, 2.85,0.4, 2.9,0.5, 2.95,0.6, 3.0,0.1, 3.0,0.3, 3.05,0.6, 3.15,0.5, 3.2,0.7, 3.25,0.7, 3.3,0.5, 3.35,0.6, 3.4,0.3, 3.45,0.4, 3.5,0.7, 3.55,0.5, 3.6,0.6, 3.65,0.7, 3.7,0.8, 3.75,0.8, 3.8,0.8, 3.8,0.5, 3.85,0.6, 3.85,0.4, 3.9,0.7, 3.95,0.3, 4.0,1.0, 4.05,0.5, 4.1,0.9, 4.3,0.4, 4.5,0.2, 4.6,0.7, 4.7,0.7, 4.8,0.4, 5.6,0.6];
const ROTN_230 = [0.82,0.4, 1.03,0.9, 1.12,0.8, 1.18,0.6, 1.2,0.5, 1.22,0.4, 1.25,0.4, 1.32,0.4, 1.42,0.8, 1.47,0.7, 1.52,0.5, 1.58,0.7, 1.6,0.5, 1.7,0.5, 1.72,0.4, 1.73,0.2, 1.75,0.7, 1.75,0.6, 1.77,0.3, 1.8,0.5, 1.82,0.6, 1.85,0.6, 1.85,0.5, 1.9,0.7, 1.95,0.3, 1.97,0.4, 2.0,0.4, 2.0,0.7, 2.02,0.1, 2.02,0.5, 2.04,0.6, 2.05,0.3, 2.06,0.3, 2.07,0.7, 2.08,0.5, 2.1,0.6, 2.1,0.4, 2.13,0.3, 2.14,0.2, 2.15,0.7, 2.16,0.5, 2.17,0.8, 2.18,0.6, 2.18,0.4, 2.19,0.8, 2.2,1.0, 2.2,0.3, 2.22,0.7, 2.23,0.6, 2.24,0.5, 2.26,0.7, 2.27,0.7];
const ROTN_280 = [1.99,0.8, 1.99,0.6, 1.995,0.5, 1.995,0.4, 1.995,0.3, 2.0,0.7, 2.0,0.5, 2.0,0.3, 2.005,0.8, 2.005,0.4, 2.005,0.2, 2.01,0.6, 2.01,0.5, 2.01,0.3, 2.015,0.6, 2.015,0.4, 2.02,0.5, 2.02,0.4, 2.025,0.7, 2.025,0.3, 2.03,0.4, 2.035,0.6, 2.04,0.5, 2.045,0.7, 2.045,0.2, 2.05,0.7, 2.05,0.5, 2.055,0.6, 2.055,0.4, 2.06,0.8, 2.06,0.5, 2.065,0.7, 2.065,0.5, 2.07,0.6, 2.07,0.4, 2.07,0.3, 2.07,0.1, 2.075,0.7, 2.075,0.4, 2.08,1.0, 2.09,0.5, 2.1,0.7, 2.105,0.6, 2.16,0.9];
const TICKS_ROTN = [['100','200','300','400','500'], ['2','3','4','5'], ['1.0','1.5','2.0'], ['2.00','2.05','2.10','2.15']];
const DOMAIN_ROTN = [[41,571], [1.55,5.8], [0.75,2.295], [1.987,2.164]];
const FIT_ROTN = [[60,0.7,550,0.18], [1.7,0.4,5.6,0.71], [0.82,0.53,2.27,0.52], [1.99,0.46,2.16,0.72]];
const RHO_ROTN = ['−0.49', '0.35', '0.11', '0.19'];
const P_ROTN = ['4.6e−05', '0.0052', '0.4', '0.13'];
const SIG_ROTN = [true, false, false, false];

// ---------- WNT3A ----------
const WNT3A_RNA = [130,0.79, 150,0.71, 165,0.84, 170,0.79, 175,0.75, 180,0.67, 185,0.71, 190,0.67, 195,0.79, 200,0.63, 200,0.58, 205,0.46, 210,0.46, 210,0.67, 215,0.71, 220,0.75, 225,0.63, 235,0.58, 240,0.38, 245,0.29, 245,0.17, 250,0.79, 250,0.71, 255,0.5, 260,0.08, 265,0.29, 260,0.63, 290,0.58, 300,0.38, 305,0.63, 315,0.63, 335,0.38, 345,0.25, 350,0.33, 355,0.25, 360,0.75, 365,0.58, 370,0.58, 370,0.13, 372,0.04, 375,0.29, 410,0.38, 412,0.13, 560,0.21, 570,0.08, 725,0.25];
const WNT3A_DEPTH = [2.05,0.29, 2.15,0.25, 2.2,0.58, 2.25,0.38, 2.3,0.38, 2.35,0.75, 2.4,0.58, 2.45,0.63, 2.45,0.79, 2.5,0.67, 2.5,0.13, 2.55,0.54, 2.55,0.58, 2.65,0.58, 2.7,0.58, 2.65,0.08, 2.85,0.13, 2.9,0.67, 3.0,0.63, 3.0,0.33, 3.05,0.38, 3.1,0.08, 3.15,0.75, 3.2,0.75, 3.2,0.58, 3.2,0.5, 3.25,0.42, 3.25,0.71, 3.3,0.67, 3.3,0.63, 3.4,0.25, 3.4,0.17, 3.45,0.29, 3.45,0.79, 3.5,0.79, 3.5,0.67, 3.55,0.46, 3.6,0.04, 3.65,0.63, 3.7,0.75, 3.75,0.58, 3.8,0.71, 3.85,0.83, 3.9,0.75, 3.9,0.29, 4.15,0.29, 4.2,0.25, 4.45,0.25, 4.6,0.71, 5.0,0.25, 5.2,0.79];
const WNT3A_230 = [0.77,0.79, 1.1,0.79, 1.22,0.17, 1.38,0.54, 1.4,0.63, 1.4,0.71, 1.42,0.25, 1.45,0.83, 1.52,0.79, 1.55,0.46, 1.57,0.63, 1.62,0.71, 1.65,0.58, 1.67,0.75, 1.65,0.38, 1.7,0.33, 1.7,0.25, 1.73,0.08, 1.75,0.33, 1.78,0.38, 1.8,0.04, 1.82,0.29, 1.87,0.67, 1.87,0.63, 1.9,0.75, 1.92,0.13, 1.95,0.79, 1.95,0.58, 1.97,0.71, 1.98,0.54, 2.0,0.63, 2.0,0.58, 2.02,0.58, 2.05,0.63, 2.05,0.25, 2.07,0.46, 2.08,0.79, 2.08,0.71, 2.1,0.38, 2.1,0.67, 2.12,0.13, 2.12,0.08, 2.13,0.29, 2.15,0.75, 2.15,0.38, 2.15,0.21, 2.17,0.67, 2.2,0.63, 2.22,0.71, 2.22,0.29, 2.25,0.63];
const WNT3A_280 = [1.99,0.67, 1.99,0.38, 1.99,0.13, 1.995,0.71, 1.995,0.63, 1.995,0.04, 2.0,0.58, 2.0,0.29, 2.0,0.25, 2.005,0.79, 2.005,0.67, 2.005,0.63, 2.005,0.6, 2.005,0.58, 2.005,0.5, 2.005,0.38, 2.01,0.79, 2.01,0.25, 2.015,0.71, 2.015,0.58, 2.015,0.46, 2.015,0.25, 2.02,0.58, 2.025,0.63, 2.025,0.08, 2.03,0.75, 2.03,0.08, 2.035,0.71, 2.035,0.67, 2.035,0.58, 2.04,0.79, 2.04,0.38, 2.04,0.25, 2.045,0.67, 2.045,0.63, 2.045,0.29, 2.045,0.13, 2.05,0.79, 2.05,0.75, 2.05,0.63, 2.05,0.58, 2.05,0.54, 2.055,0.75, 2.055,0.33, 2.06,0.33, 2.065,0.75, 2.065,0.67, 2.065,0.54, 2.065,0.21, 2.07,0.67, 2.075,0.83, 2.075,0.8, 2.075,0.77, 2.075,0.75, 2.075,0.46, 2.09,0.17];
const TICKS_WNT3A = [['100','200','300','400','500','600','700'], ['2.0','2.5','3.0','3.5','4.0','4.5','5.0'], ['1.0','1.5','2.0'], ['2.00','2.02','2.04','2.06','2.08']];
const DOMAIN_WNT3A = [[98,746], [1.97,5.34], [0.746,2.27], [1.987,2.092]];
const FIT_WNT3A = [[130,0.72,575,0.12], [2.05,0.51,5.2,0.56], [0.77,0.62,2.25,0.5], [1.99,0.48,2.09,0.6]];
const RHO_WNT3A = ['−0.66', '0.14', '−0.13', '0.19'];
const P_WNT3A = ['4.2e−09', '0.28', '0.31', '0.13'];
const SIG_WNT3A = [true, false, false, false];

const ROWS = [
  { pts: [ACTA_RNA, ACTA_DEPTH, ACTA_230, ACTA_280], ticks: TICKS_ACTA, domain: DOMAIN_ACTA, fit: FIT_ACTA, rho: RHO_ACTA, p: P_ACTA, sig: SIG_ACTA },
  { pts: [BMP2_RNA, BMP2_DEPTH, BMP2_230, BMP2_280], ticks: TICKS_BMP2, domain: DOMAIN_BMP2, fit: FIT_BMP2, rho: RHO_BMP2, p: P_BMP2, sig: SIG_BMP2 },
  { pts: [DFOM_RNA, DFOM_DEPTH, DFOM_230, DFOM_280], ticks: TICKS_DFOM, domain: DOMAIN_DFOM, fit: FIT_DFOM, rho: RHO_DFOM, p: P_DFOM, sig: SIG_DFOM },
  { pts: [FGF1_RNA, FGF1_DEPTH, FGF1_230, FGF1_280], ticks: TICKS_FGF1, domain: DOMAIN_FGF1, fit: FIT_FGF1, rho: RHO_FGF1, p: P_FGF1, sig: SIG_FGF1 },
  { pts: [IFNB_RNA, IFNB_DEPTH, IFNB_230, IFNB_280], ticks: TICKS_IFNB, domain: DOMAIN_IFNB, fit: FIT_IFNB, rho: RHO_IFNB, p: P_IFNB, sig: SIG_IFNB },
  { pts: [IFNG_RNA, IFNG_DEPTH, IFNG_230, IFNG_280], ticks: TICKS_IFNG, domain: DOMAIN_IFNG, fit: FIT_IFNG, rho: RHO_IFNG, p: P_IFNG, sig: SIG_IFNG },
  { pts: [IONM_RNA, IONM_DEPTH, IONM_230, IONM_280], ticks: TICKS_IONM, domain: DOMAIN_IONM, fit: FIT_IONM, rho: RHO_IONM, p: P_IONM, sig: SIG_IONM },
  { pts: [RESV_RNA, RESV_DEPTH, RESV_230, RESV_280], ticks: TICKS_RESV, domain: DOMAIN_RESV, fit: FIT_RESV, rho: RHO_RESV, p: P_RESV, sig: SIG_RESV },
  { pts: [ROTN_RNA, ROTN_DEPTH, ROTN_230, ROTN_280], ticks: TICKS_ROTN, domain: DOMAIN_ROTN, fit: FIT_ROTN, rho: RHO_ROTN, p: P_ROTN, sig: SIG_ROTN },
  { pts: [WNT3A_RNA, WNT3A_DEPTH, WNT3A_230, WNT3A_280], ticks: TICKS_WNT3A, domain: DOMAIN_WNT3A, fit: FIT_WNT3A, rho: RHO_WNT3A, p: P_WNT3A, sig: SIG_WNT3A },
];

const PW = 274;
const PH = 149;
const PLOT_L = 58;
const PLOT_R = 265;
const PLOT_T = 19;
const PLOT_B = 114;
const FONT = '"Liberation Sans", Arial, Helvetica, sans-serif';

function toPoints(flat: number[]) {
  const out: { x: number; y: number }[] = [];
  for (let i = 0; i + 1 < flat.length; i += 2) out.push({ x: flat[i], y: flat[i + 1] });
  return out;
}

function Panel(props: any) {
  const { row, col } = props;
  const r = ROWS[row];
  const color = COLORS[row];
  const data = toPoints(r.pts[col]);
  const f = r.fit[col];
  const fitData = [{ x: f[0], y: f[1] }, { x: f[2], y: f[3] }];
  const dom = r.domain[col];
  const labels: string[] = r.ticks[col];
  const tickVals = labels.map((s) => Number(s));
  const fmt = (v: number) => {
    const i = tickVals.findIndex((t) => Math.abs(t - v) < 1e-9);
    return i >= 0 ? labels[i] : String(v);
  };
  const sig = r.sig[col];
  const left = Math.round(col * 274.5);
  const top = Math.round(row * 148.7);
  const dot = (p: any) => <circle cx={p.cx} cy={p.cy} r={2.3} fill={color} />;
  return (
    <div style={{ position: 'absolute', left, top, width: PW, height: PH }}>
      <ScatterChart width={PW} height={PH} margin={{ top: PLOT_T, right: PW - PLOT_R, bottom: 0, left: 0 }}>
        <XAxis
          type="number"
          dataKey="x"
          domain={dom}
          ticks={tickVals}
          tickFormatter={fmt}
          interval={0}
          height={PH - PLOT_B}
          tickSize={3}
          tickMargin={3}
          axisLine={{ stroke: '#000', strokeWidth: 1 }}
          tickLine={{ stroke: '#000', strokeWidth: 1 }}
          tick={{ fill: '#4d4d4d', fontSize: 11, fontFamily: FONT }}
        />
        <YAxis
          type="number"
          dataKey="y"
          domain={[0, 1]}
          ticks={Y_TICKS}
          tickFormatter={(v: number) => v.toFixed(1)}
          interval={0}
          width={PLOT_L}
          tickSize={3}
          tickMargin={2}
          axisLine={{ stroke: '#000', strokeWidth: 1 }}
          tickLine={{ stroke: '#000', strokeWidth: 1 }}
          tick={{ fill: '#4d4d4d', fontSize: 11, fontFamily: FONT }}
        />
        <Scatter data={fitData} line={{ stroke: '#d9d9d9', strokeWidth: 5 }} shape={() => <g />} isAnimationActive={false} />
        <Scatter data={data} fill={color} shape={dot} isAnimationActive={false} />
      </ScatterChart>
      <div
        style={{
          position: 'absolute',
          right: PW - PLOT_R - 3,
          top: 5,
          textAlign: 'right',
          whiteSpace: 'nowrap',
          fontSize: 11.5,
          lineHeight: '15px',
          color: sig ? '#FF0000' : '#1a1a1a',
          fontWeight: sig ? 'bold' : 'normal',
          fontFamily: FONT,
        }}
      >
        <div>Spearman rho: {r.rho[col]}</div>
        <div>p: {r.p[col]}</div>
      </div>
      <div
        style={{
          position: 'absolute',
          left: PLOT_L,
          width: PLOT_R - PLOT_L,
          top: 134,
          height: 16,
          lineHeight: '16px',
          textAlign: 'center',
          fontSize: 14,
          color: '#000',
          whiteSpace: 'nowrap',
          fontFamily: FONT,
        }}
      >
        {X_TITLES[col]}
      </div>
      <div
        style={{
          position: 'absolute',
          left: 17.5 - 60,
          top: (PLOT_T + PLOT_B) / 2 - 8,
          width: 120,
          height: 16,
          lineHeight: '16px',
          textAlign: 'center',
          fontSize: 14,
          color: '#000',
          whiteSpace: 'nowrap',
          transform: 'rotate(-90deg)',
          fontFamily: FONT,
        }}
      >
        Overlap {GENES[row]}
      </div>
    </div>
  );
}

export default function App() {
  const panels = [];
  for (let row = 0; row < 10; row++) {
    for (let col = 0; col < 4; col++) {
      panels.push(<Panel key={row + '-' + col} row={row} col={col} />);
    }
  }
  return (
    <div style={{ position: 'absolute', left: 0, top: 0, width: 1098, height: 1488, background: '#fff', fontFamily: FONT, overflow: 'hidden' }}>
      {panels}
    </div>
  );
}
